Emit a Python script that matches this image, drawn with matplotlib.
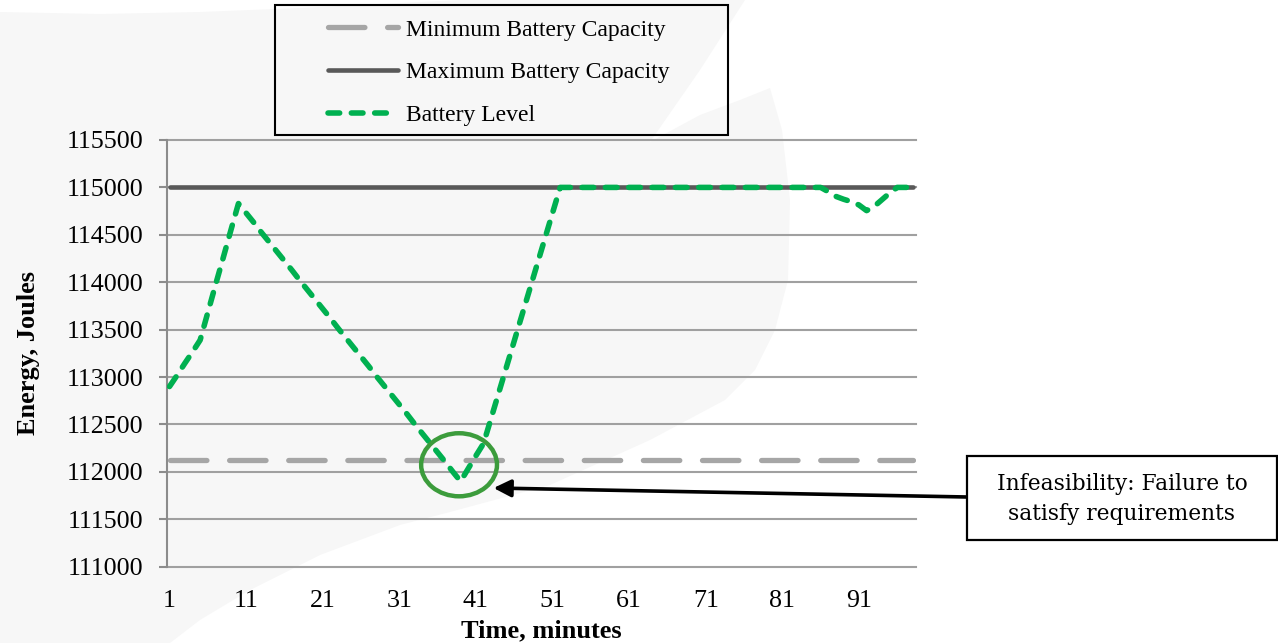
import matplotlib
matplotlib.use("Agg")
import matplotlib.pyplot as plt
from matplotlib.patches import Polygon, Rectangle, Ellipse

# ---- data -------------------------------------------------------------
minutes = list(range(1, 99))

battery_level = [
    112900, 113020, 113145, 113265, 113390, 113680, 113970, 114255, 114545, 114830,
    114730, 114630, 114525, 114425, 114325, 114225, 114125, 114020, 113920, 113820,
    113720, 113620, 113515, 113415, 113315, 113215, 113115, 113010, 112910, 112810,
    112710, 112610, 112505, 112405, 112305, 112205, 112105, 112000, 111900, 112035,
    112170, 112300, 112570, 112840, 113110, 113380, 113650, 113920, 114190, 114460,
    114730, 115000, 115000, 115000, 115000, 115000, 115000, 115000, 115000, 115000,
    115000, 115000, 115000, 115000, 115000, 115000, 115000, 115000, 115000, 115000,
    115000, 115000, 115000, 115000, 115000, 115000, 115000, 115000, 115000, 115000,
    115000, 115000, 115000, 115000, 115000, 115000, 114955, 114905, 114875, 114850,
    114815, 114755, 114800, 114870, 114940, 115000, 115000, 115000,
]

MIN_CAPACITY = 112125
MAX_CAPACITY = 115000
min_capacity = [MIN_CAPACITY] * len(minutes)
max_capacity = [MAX_CAPACITY] * len(minutes)

y_ticks = list(range(111000, 115501, 500))
x_ticks = [1, 11, 21, 31, 41, 51, 61, 71, 81, 91]

series_labels = ["Minimum Battery Capacity", "Maximum Battery Capacity", "Battery Level"]
note_text = "Infeasibility: Failure to\nsatisfy requirements"

# ---- figure -----------------------------------------------------------
W, H = 1278, 643
fig = plt.figure(figsize=(W / 100, H / 100), dpi=100)
fig.patch.set_facecolor("white")


def px(x, y):
    """pixel position (origin top-left) -> figure fraction"""
    return (x / W, 1 - y / H)


# faint background swoosh
swoosh_px = [
    (0, 12), (100, 14), (200, 12), (300, 8), (400, 3), (460, 0), (745, 0),
    (700, 70), (650, 142), (700, 115), (740, 100), (770, 88), (782, 130),
    (790, 200), (788, 280), (775, 330), (755, 370), (725, 400), (650, 440),
    (550, 485), (450, 512), (400, 525), (320, 555), (250, 590), (200, 620),
    (170, 643), (0, 643),
]
fig.patches.append(Polygon([px(*p) for p in swoosh_px], closed=True,
                           transform=fig.transFigure, facecolor="#f7f7f7",
                           edgecolor="none", zorder=-5))

ax_left, ax_right, ax_top, ax_bottom = 166.7, 916.0, 140.0, 566.7
ax = fig.add_axes([ax_left / W, 1 - ax_bottom / H,
                   (ax_right - ax_left) / W, (ax_bottom - ax_top) / H])
ax.set_facecolor("none")
ax.set_zorder(1)

serif = "Liberation Serif"
grid_color = "#a0a0a0"

ax.plot(minutes, min_capacity, color="#a6a6a6", lw=3.8,
        dashes=(6.9, 4.3), dash_capstyle="round", label=series_labels[0], zorder=3)
ax.plot(minutes, max_capacity, color="#595959", lw=3.3,
        solid_capstyle="round", label=series_labels[1], zorder=4)
ax.plot(minutes, battery_level, color="#00b050", lw=4.0,
        dashes=(2.1, 2.1), dash_capstyle="round", label=series_labels[2], zorder=5)

ax.set_xlim(0.634, 98.45)
ax.set_ylim(111000, 115500)
ax.set_yticks(y_ticks)
ax.set_yticklabels([str(v) for v in y_ticks])
ax.set_xticks(x_ticks)
ax.set_xticklabels([str(v) for v in x_ticks])

ax.grid(axis="y", color=grid_color, lw=1.5, zorder=1)
for gl in ax.get_ygridlines():
    gl.set_clip_on(False)
ax.set_axisbelow(True)

for side in ("top", "right", "bottom"):
    ax.spines[side].set_visible(False)
ax.spines["left"].set_color("#8c8c8c")
ax.spines["left"].set_linewidth(1.5)

ax.tick_params(axis="y", length=6, width=1.5, color="#8c8c8c", pad=11,
               labelsize=18.7, labelfontfamily=serif)
ax.tick_params(axis="x", length=0, pad=17, labelsize=18.7, labelfontfamily=serif)

ax.set_xlabel("Time, minutes", fontfamily=serif, fontweight="bold", fontsize=19,
              labelpad=5)
ax.set_ylabel("Energy, Joules", fontfamily=serif, fontweight="bold", fontsize=19,
              labelpad=19)

# legend with a separate frame
fig.patches.append(Rectangle(px(275, 135), 453 / W, 130 / H,
                             transform=fig.transFigure, facecolor="none",
                             edgecolor="black", lw=1.5, zorder=6))
leg = ax.legend(loc="upper left", bbox_to_anchor=px(328, 19),
                bbox_transform=fig.transFigure, frameon=False,
                prop={"family": serif, "size": 17}, handlelength=2.95,
                handletextpad=0.35, labelspacing=0.9, borderpad=0,
                borderaxespad=0)

# infeasibility marker
ax.add_patch(Ellipse((38.8, 112075), width=9.9, height=665, fill=False,
                     edgecolor="#3c9c3c", lw=3.2, zorder=6, clip_on=False))

fig.patches.append(Rectangle(px(967, 540), 310 / W, 84 / H,
                             transform=fig.transFigure, facecolor="white",
                             edgecolor="black", lw=1.6, zorder=6))
fig.text(*px(1122, 499), note_text, ha="center", va="center",
         fontfamily="DejaVu Serif", fontsize=15.7, linespacing=1.5, zorder=7)

ax.annotate("", xy=(43.3, 111830), xycoords="data",
            xytext=px(967, 497), textcoords="figure fraction",
            arrowprops=dict(arrowstyle="-|>", lw=2.6, color="black",
                            mutation_scale=26, shrinkA=0, shrinkB=0),
            annotation_clip=False, zorder=7)

fig.savefig("out.png", dpi=100, facecolor=fig.get_facecolor())
